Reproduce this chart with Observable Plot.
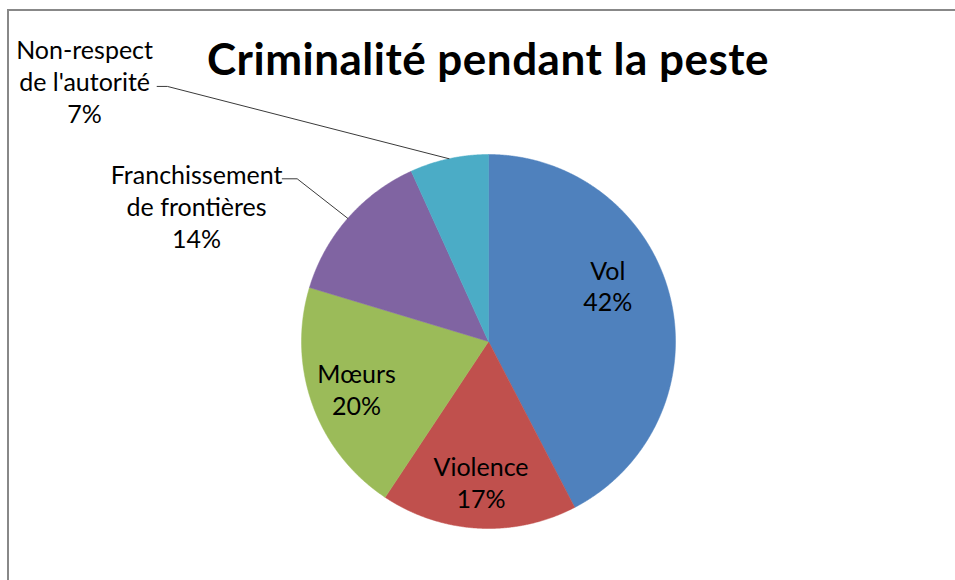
<!DOCTYPE html>
<html><head><meta charset="utf-8">
<script src="https://cdn.jsdelivr.net/npm/d3@7"></script>
<script src="https://cdn.jsdelivr.net/npm/@observablehq/plot@0.6"></script>
<style>
html,body{margin:0;padding:0;background:#fff;}
#wrap{position:relative;width:955px;height:580px;overflow:hidden;font-family:Lato,sans-serif;}
#frame{position:absolute;left:7px;top:9px;width:1000px;height:700px;border-top:2px solid #888;border-left:2px solid #888;}
#title{position:absolute;left:0;top:36px;width:976px;text-align:center;font:700 44px/44px Lato,sans-serif;letter-spacing:0.5px;color:#000;white-space:nowrap;}
#chart{position:absolute;left:0;top:0;}
</style></head><body>
<div id="wrap"><div id="frame"></div><div id="chart"></div><div id="title">Criminalité pendant la peste</div></div>
<script>
// ---- data ----
const categories = ["Vol", "Violence", "Mœurs", "Franchissement de frontières", "Non-respect de l'autorité"];
const counts = [25, 10, 12, 8, 4];
const colors = ["#4F81BD", "#C0504D", "#9BBB59", "#8064A2", "#4BACC6"];
const labelLines = [["Vol"], ["Violence"], ["Mœurs"], ["Franchissement", "de frontières"], ["Non-respect", "de l'autorité"]];
const insideCategories = ["Vol", "Violence", "Mœurs"];

// ---- layout (radius units, y up) ----
const cx = 488, cy = 341, R = 187;
const insideRadius = 0.75;
const insideNudge = {"Vol": [-0.091, 0.123]};
const outsideLayout = {
  "Franchissement de frontières": {label: [-1.561, 0.726], leader: [[-1.103, 0.870], [-1.023, 0.870]]},
  "Non-respect de l'autorité": {label: [-2.160, 1.393], leader: [[-1.772, 1.364], [-1.717, 1.364]]}
};

const total = d3.sum(counts);
const rows = categories.map((cat, i) => ({cat, count: counts[i], lines: labelLines[i], pct: Math.round(counts[i] / total * 100)}));
const arcs = d3.pie().sort(null).value(d => d.count)(rows);

const polys = [];
for (const a of arcs) {
  const cat = a.data.cat;
  polys.push({cat, x: 0, y: 0});
  const n = Math.max(2, Math.ceil((a.endAngle - a.startAngle) / (Math.PI / 720)));
  for (let k = 0; k <= n; k++) {
    const t = a.startAngle + (a.endAngle - a.startAngle) * k / n;
    polys.push({cat, x: Math.sin(t), y: Math.cos(t)});
  }
  polys.push({cat, x: 0, y: 0});
}

const inside = arcs.filter(a => insideCategories.includes(a.data.cat)).map(a => {
  const m = (a.startAngle + a.endAngle) / 2;
  const nud = insideNudge[a.data.cat] || [0, 0];
  return {x: insideRadius * Math.sin(m) + nud[0], y: insideRadius * Math.cos(m) + nud[1],
          text: a.data.lines.join("\n") + "\n" + a.data.pct + "%"};
});

const outside = [], leaders = [];
for (const a of arcs) {
  const lay = outsideLayout[a.data.cat];
  if (!lay) continue;
  const m = (a.startAngle + a.endAngle) / 2;
  outside.push({x: lay.label[0], y: lay.label[1], text: a.data.lines.join("\n") + "\n" + a.data.pct + "%"});
  for (const p of lay.leader) leaders.push({cat: a.data.cat, x: p[0], y: p[1]});
  leaders.push({cat: a.data.cat, x: Math.sin(m), y: Math.cos(m)});
}

const plot = Plot.plot({
  width: 955, height: 580, margin: 0,
  x: {domain: [-1, 1], range: [cx - R, cx + R], axis: null},
  y: {domain: [-1, 1], range: [cy + R, cy - R], axis: null},
  color: {domain: categories, range: colors},
  style: {background: "transparent", overflow: "visible"},
  marks: [
    Plot.line(polys, {x: "x", y: "y", z: "cat", fill: "cat", stroke: "cat", strokeWidth: 0.5, curve: "linear"}),
    Plot.line(leaders, {x: "x", y: "y", z: "cat", stroke: "#3a3a3a", strokeWidth: 1, curve: "linear"}),
    Plot.text(inside, {x: "x", y: "y", text: "text", fontSize: 25, fontFamily: "Lato", fill: "#000", lineHeight: 1.27, textAnchor: "middle", lineAnchor: "middle"}),
    Plot.text(outside, {x: "x", y: "y", text: "text", fontSize: 25, fontFamily: "Lato", fill: "#000", lineHeight: 1.27, textAnchor: "middle", lineAnchor: "middle"})
  ]
});
document.getElementById("chart").appendChild(plot);
</script>
</body></html>
